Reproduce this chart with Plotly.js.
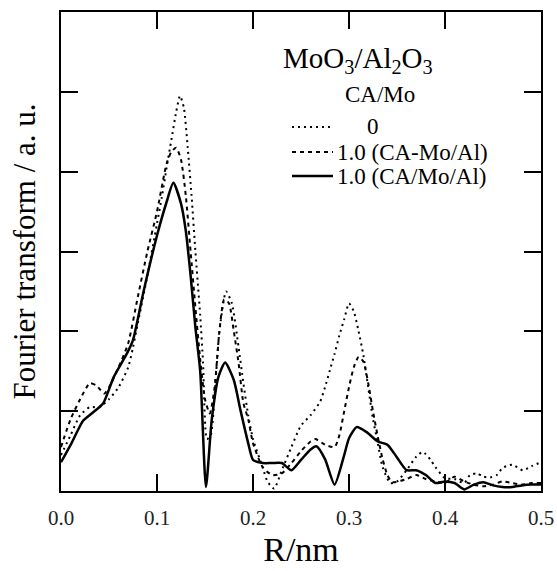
<!DOCTYPE html>
<html>
<head>
<meta charset="utf-8">
<script src="https://cdn.plot.ly/plotly-3.0.1.min.js"></script>
<style>html,body{margin:0;padding:0;background:#fff;}#chart{width:557px;height:571px;}</style>
</head>
<body>
<div id="chart"></div>
<script>
// ---- data ----
const xTickVals = [0, 0.1, 0.2, 0.3, 0.4, 0.5];
const xTickText = ['0.0', '0.1', '0.2', '0.3', '0.4', '0.5'];
const yTickVals = [1, 2, 3, 4, 5];

const seriesNames = ['0', '1.0 (CA-Mo/Al)', '1.0 (CA/Mo/Al)'];

const rZero = [0,0.01,0.02,0.03,0.04,0.05,0.06,0.07,0.075,0.08,0.09,0.10,0.105,0.11,0.115,0.12,0.124,0.128,0.132,0.136,0.14,0.145,0.148,0.152,0.156,0.16,0.165,0.172,0.178,0.185,0.19,0.195,0.2,0.21,0.215,0.222,0.23,0.24,0.25,0.26,0.27,0.275,0.28,0.285,0.29,0.295,0.30,0.305,0.31,0.315,0.32,0.325,0.33,0.335,0.343,0.35,0.36,0.37,0.377,0.385,0.39,0.40,0.41,0.42,0.426,0.433,0.44,0.447,0.454,0.46,0.47,0.481,0.49,0.5];
const ftZero = [0.45,0.7,0.95,1.05,1.05,1.15,1.3,1.55,1.8,2.1,2.7,3.35,3.68,4.05,4.4,4.75,4.95,4.8,4.3,3.7,3.0,2.2,1.6,0.65,0.7,1.2,2.0,2.5,2.35,1.8,1.35,0.95,0.65,0.3,0.12,0.03,0.26,0.55,0.82,0.95,1.12,1.3,1.51,1.72,1.95,2.15,2.35,2.25,2.0,1.7,1.3,0.9,0.6,0.3,0.1,0.12,0.26,0.43,0.49,0.39,0.3,0.16,0.15,0.1,0.2,0.22,0.18,0.17,0.2,0.29,0.33,0.26,0.31,0.36];

const rCAMo = [0,0.01,0.02,0.03,0.037,0.045,0.05,0.06,0.07,0.08,0.09,0.10,0.11,0.115,0.12,0.125,0.13,0.135,0.14,0.145,0.15,0.155,0.16,0.165,0.17,0.175,0.18,0.185,0.19,0.195,0.2,0.21,0.22,0.23,0.24,0.25,0.26,0.265,0.275,0.285,0.29,0.295,0.30,0.305,0.31,0.315,0.32,0.325,0.33,0.335,0.34,0.345,0.36,0.37,0.38,0.39,0.40,0.41,0.42,0.43,0.44,0.45,0.46,0.47,0.48,0.49,0.5];
const ftCAMo = [0.55,0.9,1.15,1.35,1.32,1.22,1.3,1.55,1.85,2.43,3.0,3.5,4.1,4.25,4.3,4.15,3.7,3.0,2.3,1.65,1.15,0.97,1.3,2.0,2.4,2.35,2.0,1.6,1.1,0.9,0.6,0.3,0.2,0.22,0.35,0.5,0.62,0.65,0.58,0.55,0.7,1.0,1.3,1.55,1.68,1.62,1.35,1.0,0.68,0.4,0.2,0.11,0.15,0.2,0.15,0.12,0.1,0.18,0.12,0.08,0.06,0.08,0.12,0.1,0.08,0.1,0.1];

const rCAMoAl = [0,0.011,0.023,0.033,0.044,0.055,0.069,0.075,0.086,0.10,0.11,0.117,0.125,0.130,0.135,0.140,0.145,0.151,0.157,0.164,0.171,0.180,0.187,0.195,0.20,0.21,0.22,0.23,0.24,0.25,0.26,0.266,0.275,0.285,0.295,0.30,0.308,0.318,0.33,0.34,0.35,0.36,0.37,0.38,0.39,0.40,0.41,0.42,0.43,0.44,0.45,0.46,0.47,0.48,0.49,0.5];
const ftCAMoAl = [0.36,0.6,0.88,0.98,1.1,1.43,1.73,1.89,2.5,3.2,3.62,3.86,3.6,3.26,2.7,2.05,1.5,0.05,0.89,1.43,1.61,1.39,1.01,0.6,0.39,0.35,0.35,0.35,0.26,0.39,0.52,0.56,0.4,0.08,0.45,0.66,0.8,0.74,0.62,0.58,0.42,0.26,0.26,0.2,0.1,0.12,0.1,0.02,0.08,0.11,0.07,0.05,0.05,0.07,0.08,0.08];

// ---- styling ----
const FONT = '"Liberation Serif", "Times New Roman", serif';
const dashes = ['2px,4px', '4px,4px', 'solid'];
const widths = [2, 2, 2.5];
const W = 557, H = 571, ML = 61, MR = 16, MT = 12, MB = 80;
const PW = W - ML - MR, PH = H - MT - MB;
const px = v => (v - ML) / PW;          // pixel -> paper x
const py = v => (H - MB - v) / PH;      // pixel -> paper y

const xs = [rZero, rCAMo, rCAMoAl];
const ys = [ftZero, ftCAMo, ftCAMoAl];
const traces = xs.map((x, i) => ({
  x: x, y: ys[i], type: 'scatter', mode: 'lines', name: seriesNames[i],
  line: {color: '#000', width: widths[i], dash: dashes[i], shape: 'spline', smoothing: 0.6},
  showlegend: false, hoverinfo: 'skip'
}));

// manual legend (sample line + label)
const legRows = [127, 152, 176];
const shapes = legRows.map((yy, i) => ({
  type: 'line', xref: 'paper', yref: 'paper',
  x0: px(292), x1: px(333), y0: py(yy), y1: py(yy),
  line: {color: '#000', width: widths[i], dash: dashes[i]}
}));
const LEGSIZE = 23;
const annotations = [
  {text: 'MoO<sub>3</sub>/Al<sub>2</sub>O<sub>3</sub>', x: px(281), y: py(60), xref: 'paper', yref: 'paper',
   xanchor: 'left', yanchor: 'middle', showarrow: false, font: {family: FONT, size: 29, color: '#000'}},
  {text: 'CA/Mo', x: px(343), y: py(95), xref: 'paper', yref: 'paper',
   xanchor: 'left', yanchor: 'middle', showarrow: false, font: {family: FONT, size: 23, color: '#000'}},
  {text: seriesNames[0], x: px(365), y: py(legRows[0]), xref: 'paper', yref: 'paper',
   xanchor: 'left', yanchor: 'middle', showarrow: false, font: {family: FONT, size: LEGSIZE, color: '#000'}},
  {text: seriesNames[1], x: px(335), y: py(legRows[1]), xref: 'paper', yref: 'paper',
   xanchor: 'left', yanchor: 'middle', showarrow: false, font: {family: FONT, size: LEGSIZE, color: '#000'}},
  {text: seriesNames[2], x: px(335), y: py(legRows[2]), xref: 'paper', yref: 'paper',
   xanchor: 'left', yanchor: 'middle', showarrow: false, font: {family: FONT, size: LEGSIZE, color: '#000'}}
];

const layout = {
  width: W, height: H,
  margin: {l: ML, r: MR, t: MT, b: MB, pad: 0},
  paper_bgcolor: '#fff', plot_bgcolor: '#fff',
  showlegend: false,
  font: {family: FONT, color: '#000'},
  xaxis: {
    range: [0, 0.5], tickvals: xTickVals, ticktext: xTickText,
    ticks: 'inside', ticklen: 17, tickwidth: 2, tickcolor: '#000',
    showline: true, linewidth: 2, linecolor: '#000', mirror: 'ticks',
    showgrid: false, zeroline: false, ticklabelstandoff: 7,
    tickfont: {family: FONT, size: 21, color: '#222'},
    title: {text: 'R/nm', font: {family: FONT, size: 34, color: '#000'}, standoff: 8}
  },
  yaxis: {
    range: [0, 6], tickvals: yTickVals, showticklabels: false,
    ticks: 'inside', ticklen: 17, tickwidth: 2, tickcolor: '#000',
    showline: true, linewidth: 2, linecolor: '#000', mirror: 'ticks',
    showgrid: false, zeroline: false,
    title: {text: 'Fourier transform / a. u.', font: {family: FONT, size: 31, color: '#000'}, standoff: 14}
  },
  shapes: shapes,
  annotations: annotations
};

Plotly.newPlot('chart', traces, layout, {staticPlot: true, displayModeBar: false});
</script>
</body>
</html>
